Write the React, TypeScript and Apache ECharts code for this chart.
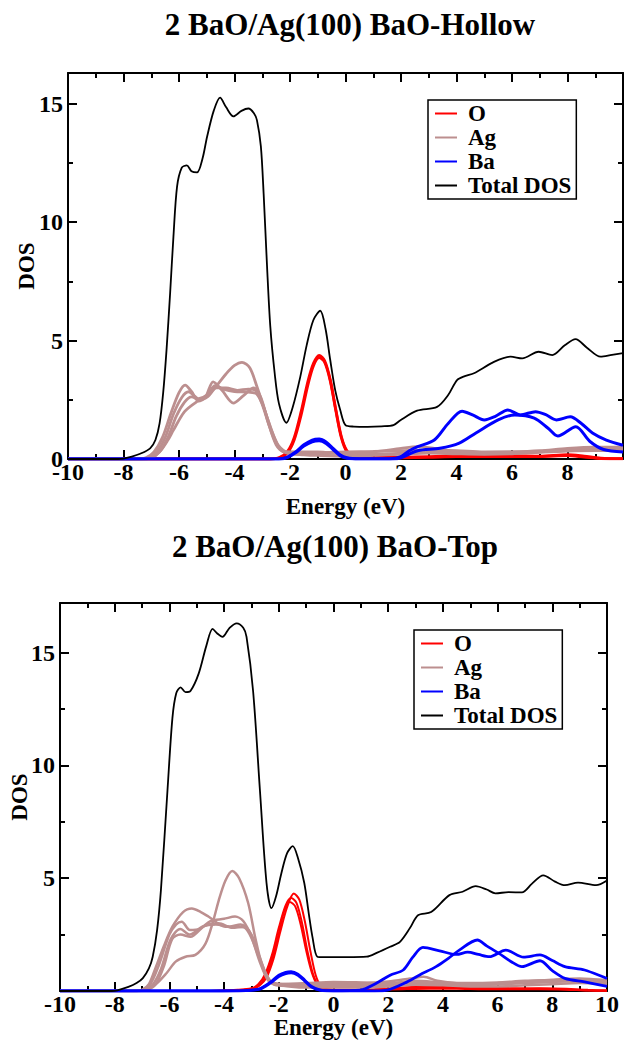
import React, { useEffect, useRef } from "react";
import * as echarts from "echarts";

const TITLES = ["2 BaO/Ag(100) BaO-Hollow", "2 BaO/Ag(100) BaO-Top"];
const LEGEND_NAMES = ["O", "Ag", "Ba", "Total DOS"];
const X_NAME = "Energy (eV)";
const Y_NAME = "DOS";

// ---------- Panel 1 : BaO-Hollow ----------
const O_H1 = [[-10,0],[-2.7,0],[-2.4,0.05],[-2.1,0.3],[-1.85,0.9],[-1.6,2.0],[-1.35,3.3],[-1.15,4.05],[-0.95,4.38],[-0.75,4.15],[-0.55,3.35],[-0.35,2.1],[-0.15,0.95],[0.05,0.35],[0.3,0.12],[1,0.06],[2,0.07],[3,0.1],[4,0.13],[5,0.14],[6,0.14],[7,0.12],[8,0.18],[8.6,0.12],[9.2,0.04],[10,0.02]];
const O_H2 = [[-10,0],[-2.7,0],[-2.4,0.04],[-2.1,0.25],[-1.85,0.8],[-1.6,1.85],[-1.35,3.15],[-1.15,3.95],[-0.95,4.28],[-0.75,4.08],[-0.55,3.3],[-0.35,2.05],[-0.15,0.9],[0.05,0.3],[0.3,0.08],[1,0.03],[2,0.05],[3,0.07],[4,0.1],[5,0.1],[6,0.1],[7,0.1],[8,0.14],[8.6,0.08],[9.2,0.02],[10,0.01]];
const AG_H1 = [[-10,0],[-7.4,0],[-7.0,0.05],[-6.7,0.3],[-6.4,0.8],[-6.2,1.22],[-5.8,2.0],[-5.36,2.42],[-5.0,2.65],[-4.64,3.1],[-4.3,3.6],[-4.0,3.95],[-3.73,4.08],[-3.45,3.85],[-3.19,3.05],[-2.83,1.78],[-2.47,0.67],[-2.15,0.3],[-1.8,0.22],[-1,0.22],[0,0.25],[1,0.3],[2,0.45],[2.6,0.52],[3.2,0.45],[4,0.32],[5,0.28],[6,0.3],[7,0.35],[8,0.45],[9,0.5],[10,0.5]];
const AG_H2 = [[-10,0],[-7.6,0],[-7.2,0.05],[-6.9,0.3],[-6.6,0.9],[-6.3,1.9],[-6.0,2.8],[-5.78,3.12],[-5.55,2.85],[-5.3,2.45],[-5.05,2.6],[-4.77,3.26],[-4.45,2.9],[-4.04,2.36],[-3.7,2.65],[-3.31,3.0],[-3.05,2.6],[-2.8,1.6],[-2.5,0.6],[-2.2,0.3],[-1.8,0.3],[-1,0.3],[0,0.2],[1,0.2],[2,0.25],[3,0.3],[4,0.3],[5,0.25],[6,0.25],[7,0.3],[8,0.38],[9,0.42],[10,0.4]];
const AG_H3 = [[-10,0],[-7.5,0],[-7.1,0.05],[-6.8,0.3],[-6.5,0.9],[-6.2,1.9],[-5.9,2.6],[-5.65,2.84],[-5.3,2.55],[-5.0,2.7],[-4.7,3.1],[-4.4,2.95],[-4.0,2.85],[-3.5,2.82],[-3.2,2.75],[-2.95,2.2],[-2.7,1.3],[-2.4,0.5],[-2.1,0.25],[-1.5,0.18],[-1,0.15],[0,0.12],[1,0.15],[2,0.2],[3,0.25],[4,0.22],[5,0.2],[6,0.22],[7,0.28],[8,0.33],[9,0.35],[10,0.35]];
const AG_H4 = [[-10,0],[-7.4,0],[-7.0,0.05],[-6.7,0.3],[-6.4,0.9],[-6.1,1.8],[-5.8,2.4],[-5.55,2.62],[-5.25,2.5],[-4.95,2.65],[-4.65,3.0],[-4.3,3.0],[-3.9,2.9],[-3.5,2.95],[-3.25,2.9],[-3.0,2.3],[-2.75,1.4],[-2.45,0.55],[-2.15,0.3],[-1.5,0.28],[-1,0.27],[0,0.3],[1,0.32],[2,0.35],[3,0.38],[4,0.35],[5,0.3],[6,0.3],[7,0.32],[8,0.4],[9,0.48],[10,0.45]];
const BA_H1 = [[-10,0],[-2.4,0],[-2.1,0.08],[-1.8,0.3],[-1.5,0.6],[-1.2,0.8],[-0.95,0.84],[-0.7,0.72],[-0.45,0.45],[-0.2,0.18],[0.05,0.05],[0.5,0.01],[1.6,0.01],[2,0.1],[2.3,0.35],[2.6,0.52],[3.2,0.8],[3.7,1.5],[4.2,2.02],[4.6,1.85],[5.0,1.65],[5.4,1.8],[5.85,2.07],[6.3,1.86],[6.85,2.0],[7.2,1.88],[7.6,1.65],[8.1,1.78],[8.5,1.5],[8.9,1.1],[9.4,0.8],[10,0.58]];
const BA_H2 = [[-10,0],[-2.4,0],[-2.1,0.06],[-1.8,0.26],[-1.5,0.55],[-1.2,0.73],[-0.95,0.77],[-0.7,0.66],[-0.45,0.4],[-0.2,0.14],[0.05,0.03],[0.5,0],[1.7,0],[2,0.05],[2.6,0.35],[3.4,0.45],[4.1,0.67],[4.7,1.1],[5.5,1.65],[6.1,1.86],[6.8,1.73],[7.3,1.3],[7.65,0.97],[8.3,1.36],[8.8,0.75],[9.3,0.4],[10,0.3]];
const TOT_H = [[-10,0],[-8.2,0],[-8,0.02],[-7.7,0.1],[-7.4,0.22],[-7.04,0.45],[-6.85,0.8],[-6.7,1.5],[-6.57,2.8],[-6.45,4.6],[-6.32,7],[-6.2,9.4],[-6.07,11.5],[-5.9,12.3],[-5.72,12.4],[-5.55,12.15],[-5.35,12.1],[-5.15,12.7],[-4.99,13.6],[-4.75,14.7],[-4.52,15.26],[-4.3,14.85],[-4.04,14.47],[-3.75,14.7],[-3.5,14.8],[-3.3,14.6],[-3.19,14.3],[-3.05,13.2],[-2.95,11.2],[-2.83,8.2],[-2.71,5.6],[-2.55,3.6],[-2.4,2.35],[-2.13,1.53],[-1.9,2.2],[-1.63,3.47],[-1.4,4.8],[-1.16,5.86],[-0.91,6.26],[-0.72,5.5],[-0.55,4.18],[-0.37,2.9],[-0.19,2.07],[0,1.43],[0.3,1.37],[0.8,1.36],[1.3,1.38],[1.73,1.43],[1.98,1.64],[2.58,2.04],[3.3,2.2],[3.7,2.7],[4.02,3.33],[4.3,3.5],[4.63,3.62],[5.35,4.1],[5.95,4.32],[6.37,4.25],[6.96,4.53],[7.45,4.39],[7.9,4.8],[8.29,5.06],[8.7,4.7],[9.19,4.32],[9.6,4.4],[10,4.47]];

// ---------- Panel 2 : BaO-Top ----------
const O_T1 = [[-10,0],[-4.5,0],[-3.5,0.04],[-3,0.1],[-2.7,0.25],[-2.45,0.6],[-2.2,1.4],[-1.95,2.6],[-1.7,3.7],[-1.45,4.32],[-1.25,4.05],[-1.05,3.1],[-0.85,1.8],[-0.65,0.7],[-0.45,0.2],[-0.2,0.07],[0.5,0.04],[1.5,0.06],[2.5,0.15],[3.5,0.2],[4.5,0.18],[5.5,0.14],[6.5,0.12],[7.5,0.1],[8.5,0.08],[9.3,0.03],[10,0.02]];
const O_T2 = [[-10,0],[-4.5,0],[-3.5,0.05],[-3,0.12],[-2.75,0.3],[-2.5,0.75],[-2.25,1.6],[-2.0,2.8],[-1.75,3.8],[-1.55,4.12],[-1.35,3.9],[-1.15,3.0],[-0.95,1.75],[-0.75,0.75],[-0.55,0.25],[-0.3,0.08],[0.5,0.05],[1.5,0.08],[2.5,0.12],[3.5,0.15],[4.5,0.15],[5.5,0.12],[6.5,0.1],[7.5,0.12],[8.5,0.1],[9.3,0.05],[10,0.02]];
const O_T3 = [[-10,0],[-4.5,0],[-3.5,0.03],[-3,0.08],[-2.75,0.22],[-2.5,0.6],[-2.25,1.4],[-2.0,2.55],[-1.8,3.55],[-1.6,3.95],[-1.4,3.75],[-1.2,2.95],[-1.0,1.8],[-0.8,0.85],[-0.6,0.3],[-0.35,0.08],[0.5,0.03],[1.5,0.05],[2.5,0.08],[3.5,0.1],[4.5,0.1],[5.5,0.08],[6.5,0.08],[7.5,0.08],[8.5,0.06],[9.3,0.02],[10,0.01]];
const AG_T1 = [[-10,0],[-7.2,0],[-6.9,0.05],[-6.5,0.3],[-6.1,0.8],[-5.77,1.3],[-5.41,1.52],[-5.05,1.6],[-4.68,2.1],[-4.4,3.1],[-4.2,4.0],[-3.95,4.9],[-3.7,5.32],[-3.45,5.0],[-3.12,3.9],[-2.85,2.3],[-2.63,1.24],[-2.3,0.4],[-2.0,0.28],[-1,0.3],[0,0.35],[1,0.35],[2,0.42],[2.8,0.55],[3.3,0.63],[3.8,0.45],[5,0.3],[6,0.3],[7,0.42],[8,0.5],[9,0.55],[10,0.45]];
const AG_T2 = [[-10,0],[-7.3,0],[-7.0,0.05],[-6.75,0.3],[-6.49,1.08],[-6.2,2.0],[-5.89,2.85],[-5.5,3.5],[-5.18,3.66],[-4.85,3.5],[-4.56,3.29],[-3.96,2.85],[-3.5,2.85],[-3.24,2.8],[-3.0,2.35],[-2.7,1.4],[-2.4,0.5],[-2.1,0.25],[-1,0.2],[0,0.2],[1,0.2],[2,0.25],[3,0.35],[4,0.3],[5,0.25],[6,0.3],[7,0.35],[8,0.4],[9,0.45],[10,0.4]];
const AG_T3 = [[-10,0],[-7.3,0],[-7.0,0.05],[-6.7,0.3],[-6.4,1.1],[-6.0,2.5],[-5.75,2.95],[-5.55,3.07],[-5.25,2.7],[-4.9,2.75],[-4.5,3.1],[-4.0,3.2],[-3.6,3.3],[-3.3,3.1],[-3.0,2.4],[-2.7,1.3],[-2.4,0.5],[-2.1,0.3],[-1,0.15],[0,0.15],[1,0.15],[2,0.2],[3,0.28],[4,0.25],[5,0.2],[6,0.2],[7,0.25],[8,0.3],[9,0.35],[10,0.3]];
const AG_T4 = [[-10,0],[-7.2,0],[-6.9,0.05],[-6.6,0.3],[-6.3,1.0],[-5.95,2.3],[-5.6,2.75],[-5.25,2.5],[-4.8,2.85],[-4.3,2.95],[-3.8,2.85],[-3.4,2.95],[-3.1,2.7],[-2.8,1.8],[-2.5,0.8],[-2.2,0.35],[-1,0.28],[0,0.25],[1,0.28],[2,0.32],[3,0.45],[4,0.38],[5,0.35],[6,0.38],[7,0.45],[8,0.48],[9,0.5],[10,0.5]];
const AG_T5 = [[-10,0],[-7.1,0],[-6.8,0.05],[-6.5,0.3],[-6.2,1.1],[-5.9,2.3],[-5.6,2.5],[-5.23,2.4],[-4.7,2.9],[-4.2,3.0],[-3.7,2.8],[-3.3,2.85],[-3.0,2.5],[-2.7,1.5],[-2.4,0.6],[-2.1,0.3],[-1,0.35],[0,0.4],[1,0.38],[2,0.35],[3,0.4],[4,0.35],[5,0.33],[6,0.35],[7,0.38],[8,0.42],[9,0.45],[10,0.38]];
const BA_T1 = [[-10,0],[-4.5,0],[-3.2,0.02],[-2.7,0.1],[-2.3,0.4],[-2.0,0.7],[-1.75,0.83],[-1.55,0.86],[-1.3,0.75],[-1.05,0.48],[-0.8,0.2],[-0.5,0.05],[0,0.01],[0.98,0.04],[1.5,0.3],[2.07,0.7],[2.55,0.93],[2.9,1.5],[3.27,1.93],[3.88,1.78],[4.5,1.62],[4.9,1.72],[5.3,1.62],[5.7,1.52],[6.3,1.81],[6.95,1.5],[7.55,1.6],[8.0,1.35],[8.46,1.08],[9.18,0.93],[10,0.55]];
const BA_T2 = [[-10,0],[-4.5,0],[-3.2,0.02],[-2.7,0.08],[-2.3,0.36],[-2.0,0.64],[-1.75,0.77],[-1.55,0.8],[-1.3,0.7],[-1.05,0.44],[-0.8,0.17],[-0.5,0.04],[0,0],[1.5,0],[2.0,0.05],[2.6,0.35],[3.15,0.71],[3.75,1.08],[4.2,1.45],[4.6,1.81],[5.26,2.26],[5.6,2.0],[6.05,1.67],[6.5,1.3],[6.89,1.08],[7.55,1.34],[8.0,0.9],[8.46,0.56],[9.18,0.4],[10,0.2]];
const TOT_T = [[-10,0],[-8.1,0],[-7.9,0.03],[-7.5,0.18],[-7.2,0.35],[-6.97,0.57],[-6.75,1.0],[-6.61,1.52],[-6.45,2.7],[-6.31,4.47],[-6.07,8.9],[-5.89,12.1],[-5.75,13.2],[-5.59,13.46],[-5.41,13.25],[-5.23,13.3],[-4.93,14.07],[-4.65,15.3],[-4.42,16.05],[-4.25,15.85],[-4.06,15.7],[-3.8,16.1],[-3.54,16.3],[-3.3,16.1],[-3.18,15.7],[-2.94,13.3],[-2.69,8.9],[-2.45,4.8],[-2.27,3.67],[-2.1,4.2],[-1.91,5.2],[-1.7,6.1],[-1.49,6.42],[-1.3,5.9],[-1.07,4.8],[-0.9,3.4],[-0.77,2.4],[-0.59,1.52],[-0.35,1.5],[0.5,1.5],[1.21,1.52],[1.6,1.7],[2.07,1.96],[2.43,2.18],[2.8,2.8],[3.09,3.36],[3.57,3.5],[4.24,4.25],[4.72,4.4],[5.2,4.65],[5.6,4.5],[5.92,4.33],[6.4,4.38],[6.89,4.37],[7.25,4.75],[7.67,5.13],[8.1,4.85],[8.46,4.69],[8.94,4.8],[9.6,4.69],[10,4.9]];

const FONT = "'Liberation Serif', 'Times New Roman', serif";
const COLORS: Record<string, string> = { O: "#ff0000", Ag: "#bc8f8f", Ba: "#0000ff", "Total DOS": "#000000" };

function line(name: string, data: number[][], panel: number, width: number) {
  return {
    type: "line",
    name,
    data,
    xAxisIndex: panel * 2,
    yAxisIndex: panel * 2,
    showSymbol: false,
    symbol: "none",
    smooth: 0.3,
    color: COLORS[name],
    itemStyle: { color: COLORS[name] },
    lineStyle: { color: COLORS[name], width },
    emphasis: { disabled: true },
    silent: true,
  };
}

const blk = { color: "#000", width: 2 };
const tickFont = { fontFamily: FONT, fontWeight: "bold", fontSize: 24, color: "#000" };
const nameFont = { fontFamily: FONT, fontWeight: "bold", fontSize: 23, color: "#000" };

function xAxes(grid: number, nameGap: number, hide10: boolean) {
  const base = {
    type: "value",
    gridIndex: grid,
    min: -10,
    max: 10,
    interval: 2,
    splitLine: { show: false },
    axisLine: { show: true, onZero: false, lineStyle: blk },
    axisTick: { show: true, inside: true, length: 9, lineStyle: blk },
    minorTick: { show: true, splitNumber: 2, length: 5, lineStyle: blk },
  };
  return [
    {
      ...base,
      position: "bottom",
      name: X_NAME,
      nameLocation: "middle",
      nameGap,
      nameMoveOverlap: false,
      nameTextStyle: nameFont,
      axisLabel: { ...tickFont, margin: 1, hideOverlap: false, formatter: (v: number) => (hide10 && v === 10 ? "" : String(v)) },
    },
    { ...base, position: "top", axisLabel: { show: false } },
  ];
}

function yAxes(grid: number, max: number, nameGap: number, hide0: boolean) {
  const base = {
    type: "value",
    gridIndex: grid,
    min: 0,
    max,
    interval: 5,
    splitLine: { show: false },
    axisLine: { show: true, onZero: false, lineStyle: blk },
    axisTick: { show: true, inside: true, length: 9, lineStyle: blk },
    minorTick: { show: true, splitNumber: 2, length: 5, lineStyle: blk },
  };
  return [
    {
      ...base,
      position: "left",
      name: Y_NAME,
      nameLocation: "middle",
      nameGap,
      nameMoveOverlap: false,
      nameTextStyle: nameFont,
      axisLabel: {
        ...tickFont,
        margin: 5,
        formatter: (v: number) => (v % 5 !== 0 || (hide0 && v === 0) ? "" : String(v)),
      },
    },
    { ...base, position: "right", axisLabel: { show: false } },
  ];
}

function legend(left: number, top: number) {
  return {
    data: LEGEND_NAMES,
    orient: "vertical",
    left,
    top,
    padding: [2, 5, 2, 7],
    itemGap: 1,
    itemWidth: 22,
    itemHeight: 2,
    icon: "rect",
    borderColor: "#000",
    borderWidth: 1.5,
    borderRadius: 0,
    backgroundColor: "#fff",
    selectedMode: false,
    textStyle: { fontFamily: FONT, fontWeight: "bold", fontSize: 23, color: "#000", padding: [0, 0, 0, 6] },
  };
}

export default function App() {
  const ref = useRef<HTMLDivElement>(null);
  useEffect(() => {
    document.body.style.margin = "0";
    const chart = echarts.init(ref.current!, null, { renderer: "svg" });
    const titleStyle = { fontFamily: FONT, fontWeight: "bold", fontSize: 31, color: "#000" };
    chart.setOption({
      animation: false,
      backgroundColor: "#fff",
      title: [
        { text: TITLES[0], left: 345, top: 4, textAlign: "center", textStyle: titleStyle },
        { text: TITLES[1], left: 330, top: 526, textAlign: "center", textStyle: titleStyle },
      ],
      legend: [legend(428, 100), legend(414, 630)],
      grid: [
        { left: 68, top: 73, width: 555, height: 386 },
        { left: 53, top: 603, width: 554, height: 388 },
      ],
      xAxis: [...xAxes(0, 36, true), ...xAxes(1, 25, false)],
      yAxis: [...yAxes(0, 16.3, 30, false), ...yAxes(1, 17.2, 29, true)],
      series: [
        line("O", O_H1, 0, 2.8),
        line("O", O_H2, 0, 2.8),
        line("Ag", AG_H1, 0, 2.8),
        line("Ag", AG_H2, 0, 2.8),
        line("Ag", AG_H3, 0, 2.8),
        line("Ag", AG_H4, 0, 2.8),
        line("Ba", BA_H1, 0, 3),
        line("Ba", BA_H2, 0, 3),
        line("Total DOS", TOT_H, 0, 1.8),
        line("O", O_T1, 1, 2),
        line("O", O_T2, 1, 2),
        line("O", O_T3, 1, 2),
        line("Ag", AG_T1, 1, 2.5),
        line("Ag", AG_T2, 1, 2.5),
        line("Ag", AG_T3, 1, 2.5),
        line("Ag", AG_T4, 1, 2.5),
        line("Ag", AG_T5, 1, 2.5),
        line("Ba", BA_T1, 1, 2.8),
        line("Ba", BA_T2, 1, 2.8),
        line("Total DOS", TOT_T, 1, 1.8),
      ],
    });
    return () => chart.dispose();
  }, []);
  return <div ref={ref} style={{ width: 629, height: 1040 }} />;
}
